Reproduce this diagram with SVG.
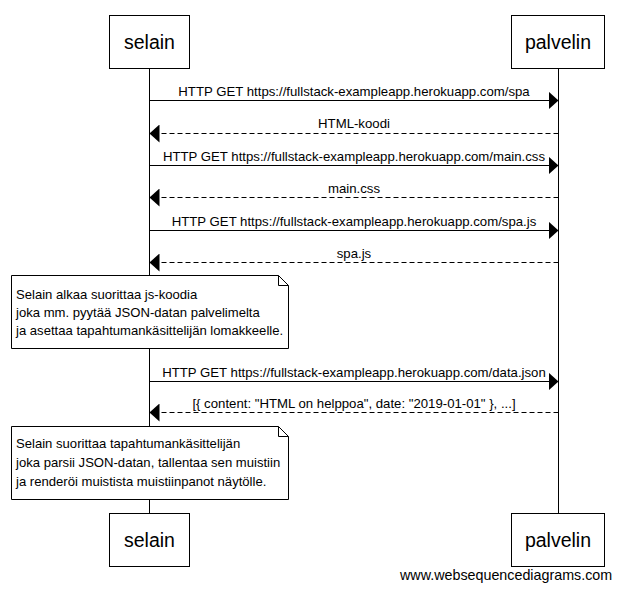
<svg xmlns="http://www.w3.org/2000/svg" width="620" height="590" viewBox="0 0 620 590">
<defs>
<style>
.box{fill:#fff;stroke:#000;stroke-width:1}
.pt{font-family:"Liberation Sans",Arial,sans-serif;font-size:19.5px;text-anchor:middle;fill:#000}
.lbl{font-family:"Liberation Sans",Arial,sans-serif;font-size:13.2px;text-anchor:middle;fill:#000}
.nt{font-family:"Liberation Sans",Arial,sans-serif;font-size:13.1px;fill:#000}
.ln{stroke:#000;stroke-width:1;fill:none}
.dash{stroke-dasharray:5,3}
</style>
<marker id="ah" markerWidth="10" markerHeight="18" refX="10" refY="9" orient="auto" markerUnits="userSpaceOnUse">
<path d="M0,0 L10,9 L0,18 Z" fill="#000"/>
</marker>
</defs>
<rect width="620" height="590" fill="#fff"/>
<g id="lifelines">
<line class="ln" x1="149.5" y1="68.5" x2="149.5" y2="513.5"/>
<line class="ln" x1="558.5" y1="68.5" x2="558.5" y2="513.5"/>
</g>
<g id="selain-top"><rect class="box" x="109.5" y="15.5" width="80" height="53"/><text class="pt" x="149.5" y="49">selain</text></g>
<g id="palvelin-top"><rect class="box" x="511.5" y="15.5" width="93" height="53"/><text class="pt" x="558" y="49">palvelin</text></g>
<g id="selain-bottom"><rect class="box" x="109.5" y="513.5" width="80" height="53"/><text class="pt" x="149.5" y="547">selain</text></g>
<g id="palvelin-bottom"><rect class="box" x="511.5" y="513.5" width="93" height="53"/><text class="pt" x="558" y="547">palvelin</text></g>
<g id="connectors">
<line class="ln" x1="149.5" y1="100.5" x2="558.5" y2="100.5" marker-end="url(#ah)"/>
<text class="lbl" x="354" y="96">HTTP GET https://fullstack-exampleapp.herokuapp.com/spa</text>
<line class="ln dash" x1="558.5" y1="133.5" x2="149.5" y2="133.5" marker-end="url(#ah)"/>
<text class="lbl" x="354" y="128">HTML-koodi</text>
<line class="ln" x1="149.5" y1="165.5" x2="558.5" y2="165.5" marker-end="url(#ah)"/>
<text class="lbl" x="354" y="161">HTTP GET https://fullstack-exampleapp.herokuapp.com/main.css</text>
<line class="ln dash" x1="558.5" y1="197.5" x2="149.5" y2="197.5" marker-end="url(#ah)"/>
<text class="lbl" x="354" y="193">main.css</text>
<line class="ln" x1="149.5" y1="230.5" x2="558.5" y2="230.5" marker-end="url(#ah)"/>
<text class="lbl" x="354" y="226">HTTP GET https://fullstack-exampleapp.herokuapp.com/spa.js</text>
<line class="ln dash" x1="558.5" y1="262.5" x2="149.5" y2="262.5" marker-end="url(#ah)"/>
<text class="lbl" x="354" y="258">spa.js</text>
<line class="ln" x1="149.5" y1="381.5" x2="558.5" y2="381.5" marker-end="url(#ah)"/>
<text class="lbl" x="354" y="377">HTTP GET https://fullstack-exampleapp.herokuapp.com/data.json</text>
<line class="ln dash" x1="558.5" y1="412.5" x2="149.5" y2="412.5" marker-end="url(#ah)"/>
<text class="lbl" x="354" y="408">[{ content: "HTML on helppoa", date: "2019-01-01" }, ...]</text>
</g>
<g id="note1">
<path class="box" d="M11.5,275.5 H278.5 L288.5,285.5 V348.5 H11.5 Z"/>
<path class="ln" d="M278.5,275.5 V285.5 H288.5"/>
<text class="nt" x="16" y="299">Selain alkaa suorittaa js-koodia</text>
<text class="nt" x="16" y="317">joka mm. pyytää JSON-datan palvelimelta</text>
<text class="nt" x="16" y="335">ja asettaa tapahtumankäsittelijän lomakkeelle.</text>
</g>
<g id="note2">
<path class="box" d="M11.5,426.5 H278.5 L288.5,436.5 V499.5 H11.5 Z"/>
<path class="ln" d="M278.5,426.5 V436.5 H288.5"/>
<text class="nt" x="16" y="448">Selain suorittaa tapahtumankäsittelijän</text>
<text class="nt" x="16" y="467">joka parsii JSON-datan, tallentaa sen muistiin</text>
<text class="nt" x="16" y="486">ja renderöi muistista muistiinpanot näytölle.</text>
</g>
<text class="nt" x="400" y="580" style="font-size:14.3px">www.websequencediagrams.com</text>
</svg>
